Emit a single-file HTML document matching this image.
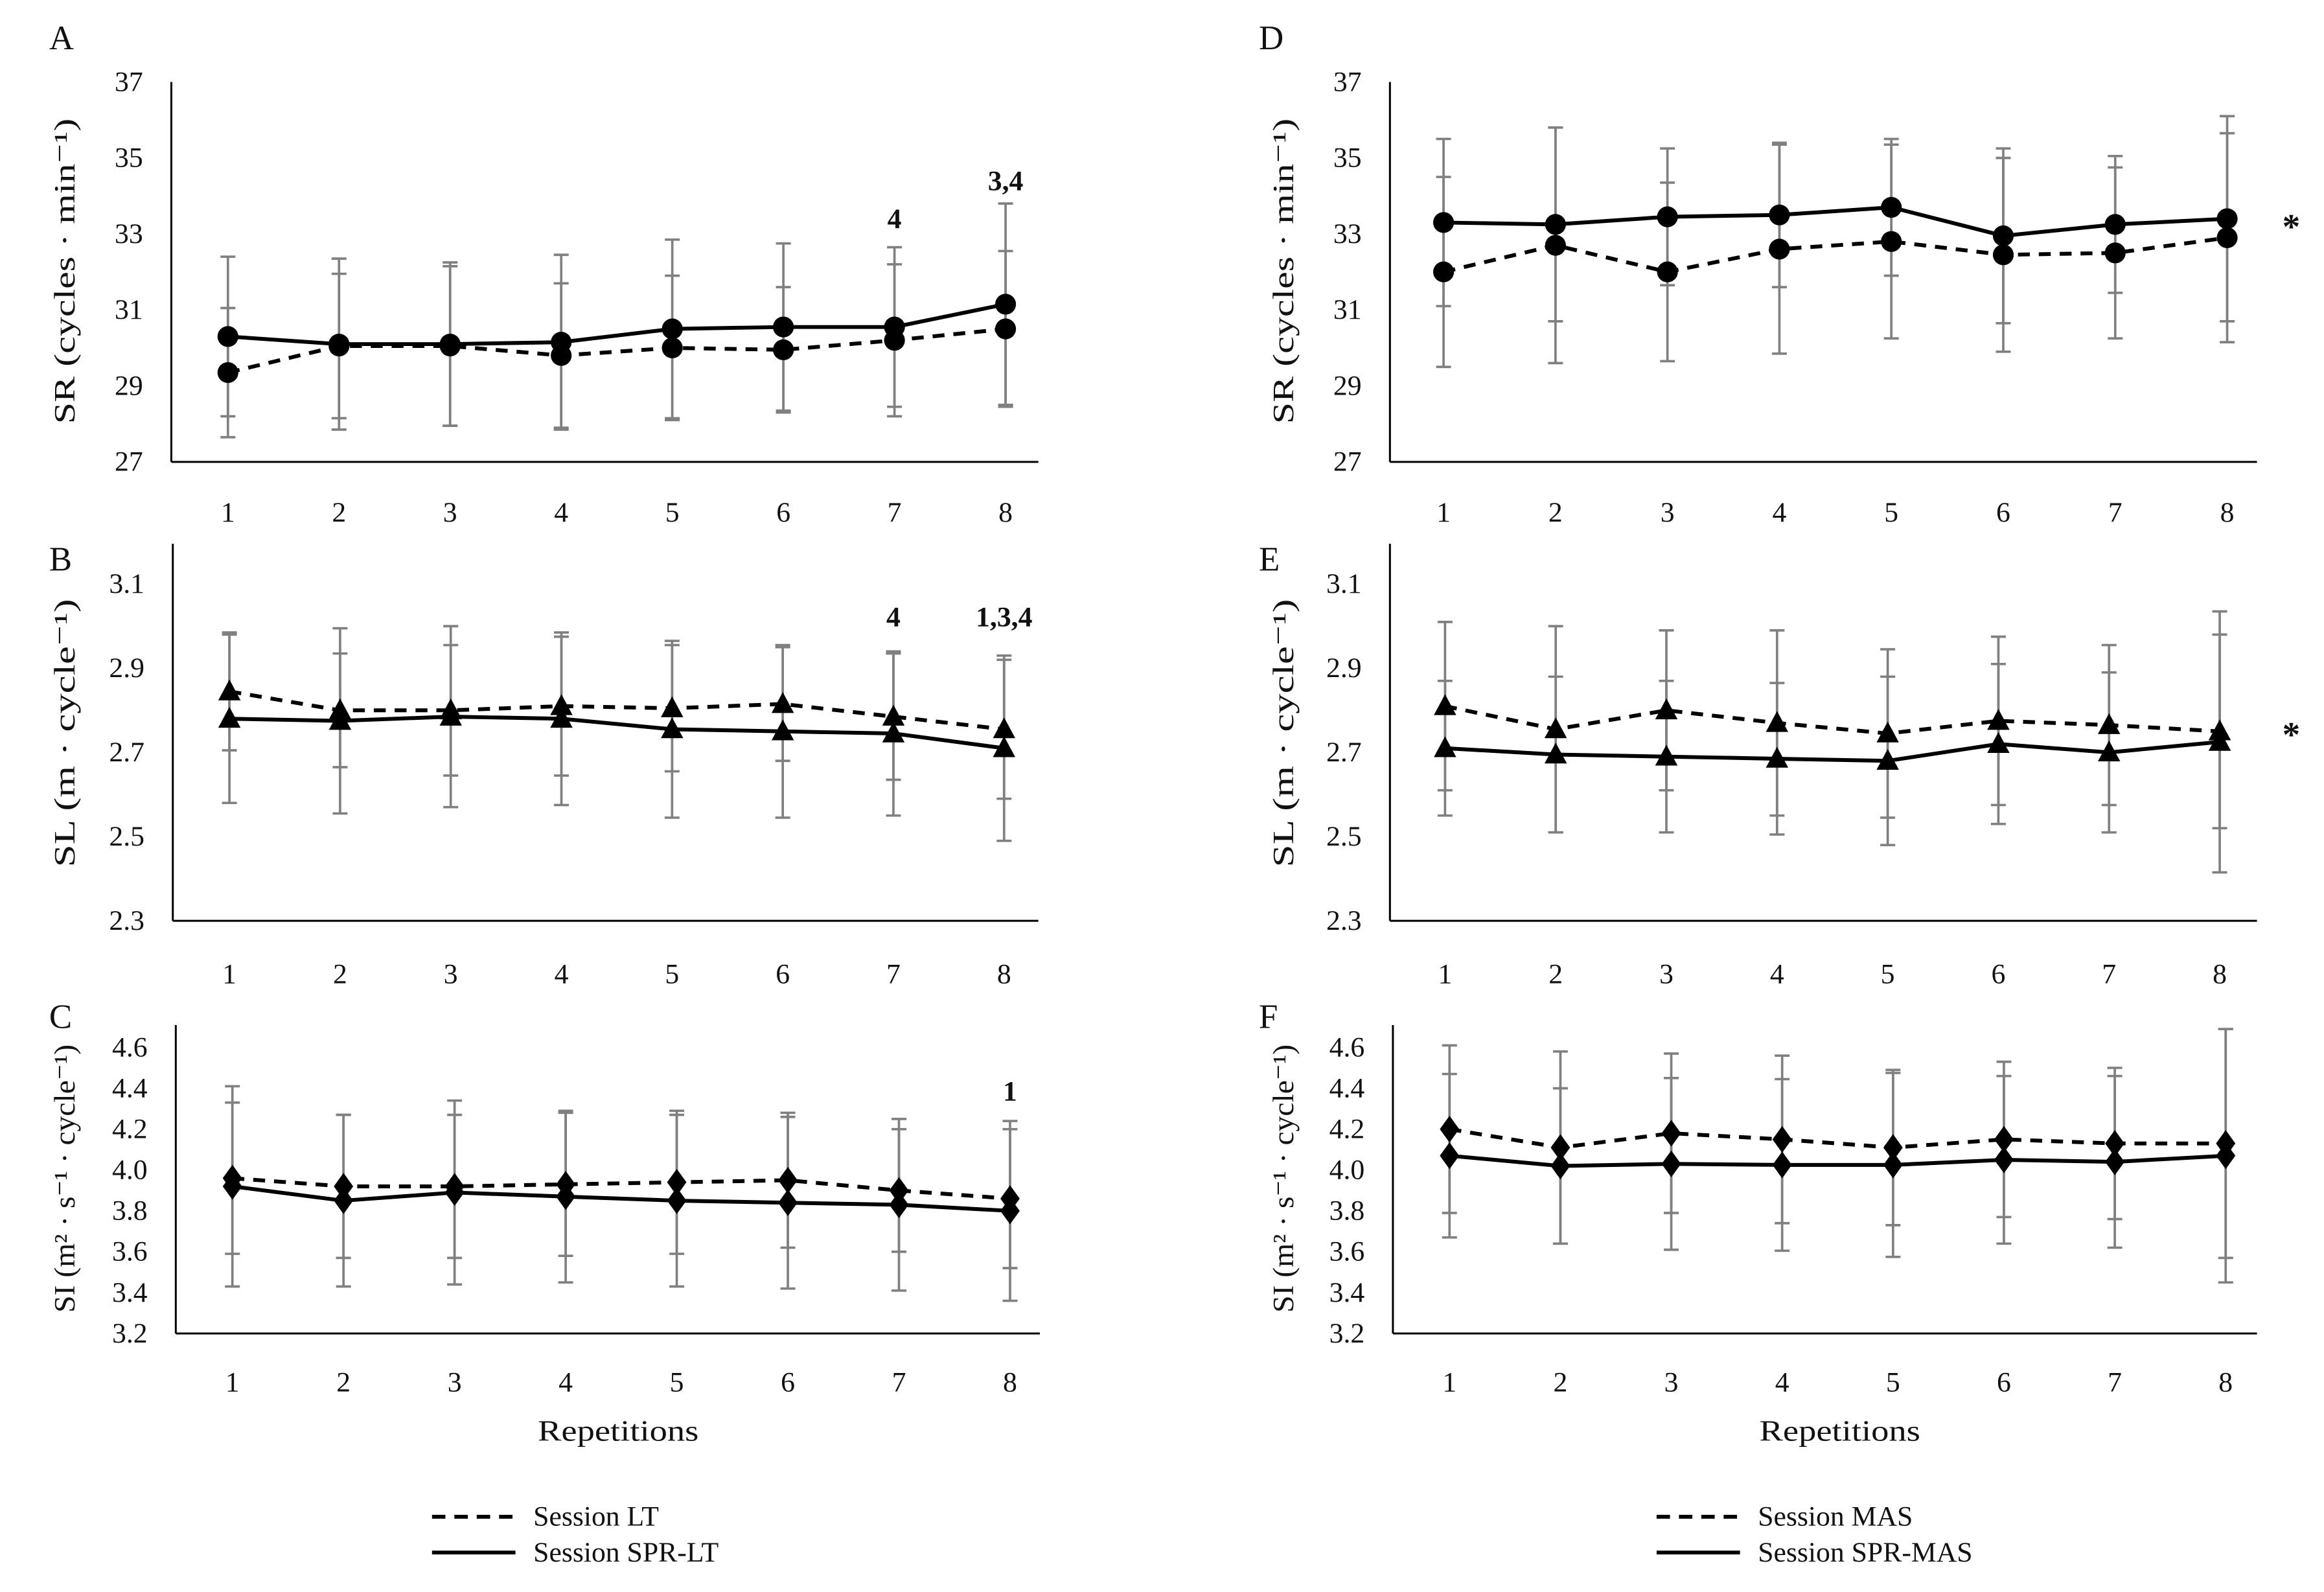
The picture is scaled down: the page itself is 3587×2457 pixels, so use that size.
<!DOCTYPE html>
<html><head><meta charset="utf-8"><style>html,body{margin:0;padding:0;background:#fff}svg{display:block}text{font-family:"Liberation Serif",serif;fill:#111}</style></head>
<body>
<svg id="fig" width="3587" height="2457" viewBox="0 0 1560 1068.5" preserveAspectRatio="none" xmlns="http://www.w3.org/2000/svg"></svg>
<script>
const reps = [1,2,3,4,5,6,7,8];
const srLT = [29.35,30.05,30.05,29.8,30.0,29.95,30.2,30.5];
const srLTsd = [1.7,1.9,2.1,1.9,1.9,1.65,2.0,2.05];
const srSPRLT = [30.3,30.1,30.1,30.15,30.5,30.55,30.55,31.15];
const srSPRLTsd = [2.1,2.25,2.15,2.3,2.35,2.2,2.1,2.65];
const slLT = [2.845,2.80,2.80,2.81,2.805,2.815,2.785,2.755];
const slLTsd = [0.14,0.135,0.155,0.165,0.15,0.135,0.15,0.165];
const slSPRLT = [2.78,2.775,2.785,2.78,2.755,2.75,2.745,2.71];
const slSPRLTsd = [0.2,0.22,0.215,0.205,0.21,0.205,0.195,0.22];
const siLT = [3.96,3.92,3.92,3.93,3.94,3.95,3.90,3.86];
const siLTsd = [0.37,0.35,0.35,0.35,0.35,0.33,0.3,0.34];
const siSPRLT = [3.92,3.85,3.89,3.87,3.85,3.84,3.83,3.80];
const siSPRLTsd = [0.49,0.42,0.45,0.42,0.42,0.42,0.42,0.44];
const srMAS = [32.0,32.7,32.0,32.6,32.8,32.45,32.5,32.9];
const srMASsd = [2.5,3.1,2.35,2.75,2.55,2.55,2.25,2.75];
const srSPRMAS = [33.3,33.25,33.45,33.5,33.7,32.95,33.25,33.4];
const srSPRMASsd = [2.2,2.55,1.8,1.9,1.8,2.3,1.8,2.7];
const slMAS = [2.81,2.755,2.80,2.77,2.745,2.775,2.765,2.75];
const slMASsd = [0.2,0.245,0.19,0.22,0.2,0.2,0.19,0.23];
const slSPRMAS = [2.71,2.695,2.69,2.685,2.68,2.72,2.70,2.725];
const slSPRMASsd = [0.16,0.185,0.18,0.18,0.2,0.19,0.19,0.31];
const siMAS = [4.2,4.11,4.18,4.15,4.11,4.15,4.13,4.13];
const siMASsd = [0.41,0.47,0.39,0.41,0.38,0.38,0.37,0.56];
const siSPRMAS = [4.07,4.02,4.03,4.025,4.025,4.05,4.04,4.07];
const siSPRMASsd = [0.4,0.38,0.42,0.42,0.45,0.41,0.42,0.62];
const srTicks = [27,29,31,33,35,37];
const slTicks = [2.3,2.5,2.7,2.9,3.1];
const siTicks = [3.2,3.4,3.6,3.8,4.0,4.2,4.4,4.6];

const NS='http://www.w3.org/2000/svg';
const svg=document.getElementById('fig');
function mk(tag,attrs,parent,txt){const e=document.createElementNS(NS,tag);for(const k in attrs)e.setAttribute(k,attrs[k]);if(txt!==undefined)e.textContent=txt;(parent||svg).appendChild(e);return e;}

const panels=[
 {id:'a',letter:'A',lx:33,ly:33,ax:115,top:55,y0:310,y1:55,v0:27,v1:37,right:697,c1:153,c8:675,xl:350,ticks:srTicks,dec:0,marker:'circle',dash:srLT,dashSd:srLTsd,solid:srSPRLT,solidSd:srSPRLTsd,tx:50,tl:205,tc:182,title:'SR (cycles · min\u207B\u00B9)',ann:[[7,33.15,'4'],[8,34.15,'3,4']]},
 {id:'b',letter:'B',lx:33,ly:383,ax:116,top:365,y0:618,y1:392,v0:2.3,v1:3.1,right:697,c1:154,c8:674,xl:660,ticks:slTicks,dec:1,marker:'tri',dash:slLT,dashSd:slLTsd,solid:slSPRLT,solidSd:slSPRLTsd,tx:50,tl:180,tc:492,title:'SL (m · cycle\u207B\u00B9)',ann:[[7,3.0,'4'],[8,3.0,'1,3,4']]},
 {id:'c',letter:'C',lx:33,ly:690,ax:118,top:688,y0:895,y1:703,v0:3.2,v1:4.6,right:698,c1:156,c8:678,xl:934,ticks:siTicks,dec:1,marker:'dia',dash:siLT,dashSd:siLTsd,solid:siSPRLT,solidSd:siSPRLTsd,tx:50,tl:180,tc:791,title:'SI (m\u00B2 · s\u207B\u00B9 · cycle\u207B\u00B9)',ann:[[8,4.34,'1']]},
 {id:'d',letter:'D',lx:845,ly:33,ax:933,top:55,y0:310,y1:55,v0:27,v1:37,right:1515,c1:969,c8:1495,xl:350,ticks:srTicks,dec:0,marker:'circle',dash:srMAS,dashSd:srMASsd,solid:srSPRMAS,solidSd:srSPRMASsd,tx:868,tl:205,tc:182,title:'SR (cycles · min\u207B\u00B9)',ann:[],star:160},
 {id:'e',letter:'E',lx:845,ly:383,ax:933,top:365,y0:618,y1:392,v0:2.3,v1:3.1,right:1515,c1:970,c8:1490,xl:660,ticks:slTicks,dec:1,marker:'tri',dash:slMAS,dashSd:slMASsd,solid:slSPRMAS,solidSd:slSPRMASsd,tx:868,tl:180,tc:492,title:'SL (m · cycle\u207B\u00B9)',ann:[],star:501},
 {id:'f',letter:'F',lx:845,ly:690,ax:935,top:688,y0:895,y1:703,v0:3.2,v1:4.6,right:1515,c1:973,c8:1494,xl:934,ticks:siTicks,dec:1,marker:'dia',dash:siMAS,dashSd:siMASsd,solid:siSPRMAS,solidSd:siSPRMASsd,tx:868,tl:180,tc:791,title:'SI (m\u00B2 · s\u207B\u00B9 · cycle\u207B\u00B9)',ann:[]}
];

function marker(g,type,x,y){
 let m;
 if(type==='circle')m=mk('circle',{cx:x,cy:y,r:7,fill:'#000'},g);
 else if(type==='tri')m=mk('polygon',{points:`${x},${y-8} ${x+7.5},${y+6} ${x-7.5},${y+6}`,fill:'#000'},g);
 else m=mk('polygon',{points:`${x},${y-9} ${x+6.5},${y} ${x},${y+9} ${x-6.5},${y}`,fill:'#000'},g);
 
 
}

panels.forEach(p=>{
 const g=mk('g',{},svg);
 
 
 const yS=v=>p.y0-(v-p.v0)/(p.v1-p.v0)*(p.y0-p.y1);
 const xS=r=>p.c1+(r-1)*(p.c8-p.c1)/7;
 const L=mk('text',{x:p.lx,y:p.ly,'font-size':23},g,p.letter);
 
 const ya=mk('line',{x1:p.ax,y1:p.top,x2:p.ax,y2:p.y0,stroke:'#000','stroke-width':1.3},g);
 
 const xa=mk('line',{x1:p.ax,y1:p.y0,x2:p.right,y2:p.y0,stroke:'#000','stroke-width':1.3},g);
 
 p.ticks.forEach(t=>{
  const tl=mk('text',{x:p.ax-19,y:yS(t)+6,'font-size':19,'text-anchor':'end'},g,t.toFixed(p.dec));
  
 });
 reps.forEach(r=>{
  const tl=mk('text',{x:xS(r),y:p.xl,'font-size':19,'text-anchor':'middle'},g,String(r));
  
 });
 const cy=p.tc;
 const tt=mk('text',{x:p.tx,y:cy,'font-size':20,'text-anchor':'middle',textLength:p.tl,lengthAdjust:'spacingAndGlyphs',transform:`rotate(-90 ${p.tx} ${cy})`},g,p.title);
 
 [[p.dash,p.dashSd],[p.solid,p.solidSd]].forEach(([m,sd])=>{
  reps.forEach((r,i)=>{
   const x=xS(r),hi=yS(m[i]+sd[i]),lo=yS(m[i]-sd[i]);
   const eb=mk('path',{d:`M${x},${hi}V${lo}M${x-5},${hi}H${x+5}M${x-5},${lo}H${x+5}`,stroke:'#808080','stroke-width':1.6,fill:'none'},g);
   
  });
 });
 [[p.dash,'8,6','dashed-series'],[p.solid,null,'solid-series']].forEach(([m,da,nm])=>{
  const pts=reps.map((r,i)=>xS(r)+','+yS(m[i])).join(' ');
  const a={points:pts,fill:'none',stroke:'#000','stroke-width':2.6};
  if(da)a['stroke-dasharray']=da;
  const pl=mk('polyline',a,g);
  
  reps.forEach((r,i)=>marker(g,p.marker,xS(r),yS(m[i])));
 });
 p.ann.forEach(([r,v,s])=>{
  const an=mk('text',{x:xS(r),y:yS(v),'font-size':19,'font-weight':'bold','text-anchor':'middle'},g,s);
  
 });
 if(p.star){const st=mk('text',{x:1538,y:p.star,'font-size':24,'font-weight':'bold','text-anchor':'middle'},g,'*');
  }
});

[[415,'left'],[1235,'right']].forEach(([x,s])=>{
 const t=mk('text',{x:x,y:967,'font-size':20,'text-anchor':'middle',textLength:108,lengthAdjust:'spacingAndGlyphs'},svg,'Repetitions');
 
});
[[290,'Session LT','Session SPR-LT','left'],[1112,'Session MAS','Session SPR-MAS','right']].forEach(([x,a,b,s])=>{
 const g=mk('g',{},svg);
 
 const l1=mk('line',{x1:x,y1:1018,x2:x+56,y2:1018,stroke:'#000','stroke-width':2.6,'stroke-dasharray':'9,6'},g);
 
 const t1=mk('text',{x:x+68,y:1024,'font-size':19},g,a);
 
 const l2=mk('line',{x1:x,y1:1042,x2:x+56,y2:1042,stroke:'#000','stroke-width':2.6},g);
 
 const t2=mk('text',{x:x+68,y:1048,'font-size':19},g,b);
 
});
</script>
</body></html>
